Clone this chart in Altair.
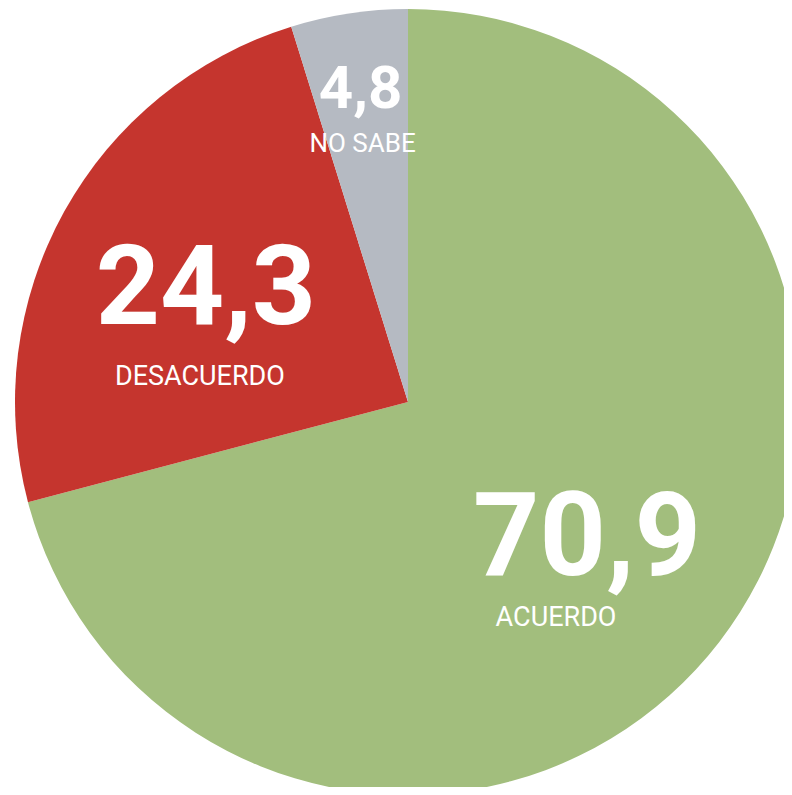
import altair as alt
import pandas as pd

categories = ["ACUERDO", "DESACUERDO", "NO SABE"]
values = [70.9, 24.3, 4.8]
value_labels = ["70,9", "24,3", "4,8"]
colors = ["#A2BE7D", "#C5352E", "#B5BAC2"]

df = pd.DataFrame({
    "cat": categories,
    "value": values,
    "num": value_labels,
    "idx": list(range(len(categories))),
})

CX, CY, R = 400, 394, 393
FONT = "Roboto, Liberation Sans, sans-serif"

base = alt.Chart(df).transform_window(
    cum="sum(value)", sort=[alt.SortField("idx")]
).transform_calculate(mid="datum.cum - datum.value / 2")

pie = base.mark_arc(outerRadius=R).encode(
    theta=alt.Theta("value:Q", stack=True),
    order=alt.Order("idx:Q"),
    color=alt.Color("cat:N", scale=alt.Scale(domain=categories, range=colors), legend=None),
    x=alt.value(CX),
    y=alt.value(CY),
)

# per-slice text placement: (radius of number, number size, label dx, label dy, label size)
place = {
    "ACUERDO": (226, 116, -31, 78, 27),
    "DESACUERDO": (231, 112, -6, 87, 27),
    "NO SABE": (316, 60, 2, 54, 26),
}

layers = [pie]
for cat in categories:
    r, nsize, ldx, ldy, lsize = place[cat]
    sub = base.transform_filter(alt.datum.cat == cat)
    enc = dict(
        theta=alt.Theta("mid:Q", stack=False),
        x=alt.value(CX),
        y=alt.value(CY),
    )
    layers.append(
        sub.mark_text(radius=r, fontSize=nsize, fontWeight="bold", font=FONT,
                      color="white", align="center", baseline="middle").encode(
            text="num:N", **enc)
    )
    layers.append(
        sub.mark_text(radius=r, dx=ldx, dy=ldy, fontSize=lsize, font=FONT,
                      color="white", align="center", baseline="middle").encode(
            text="cat:N", **enc)
    )

chart = alt.layer(*layers).properties(
    width=776, height=779,
    autosize=alt.AutoSizeParams(type="none"),
    padding=0,
).configure_view(stroke=None)

chart.save("out.html", embed_options={"renderer": "svg", "actions": False})
